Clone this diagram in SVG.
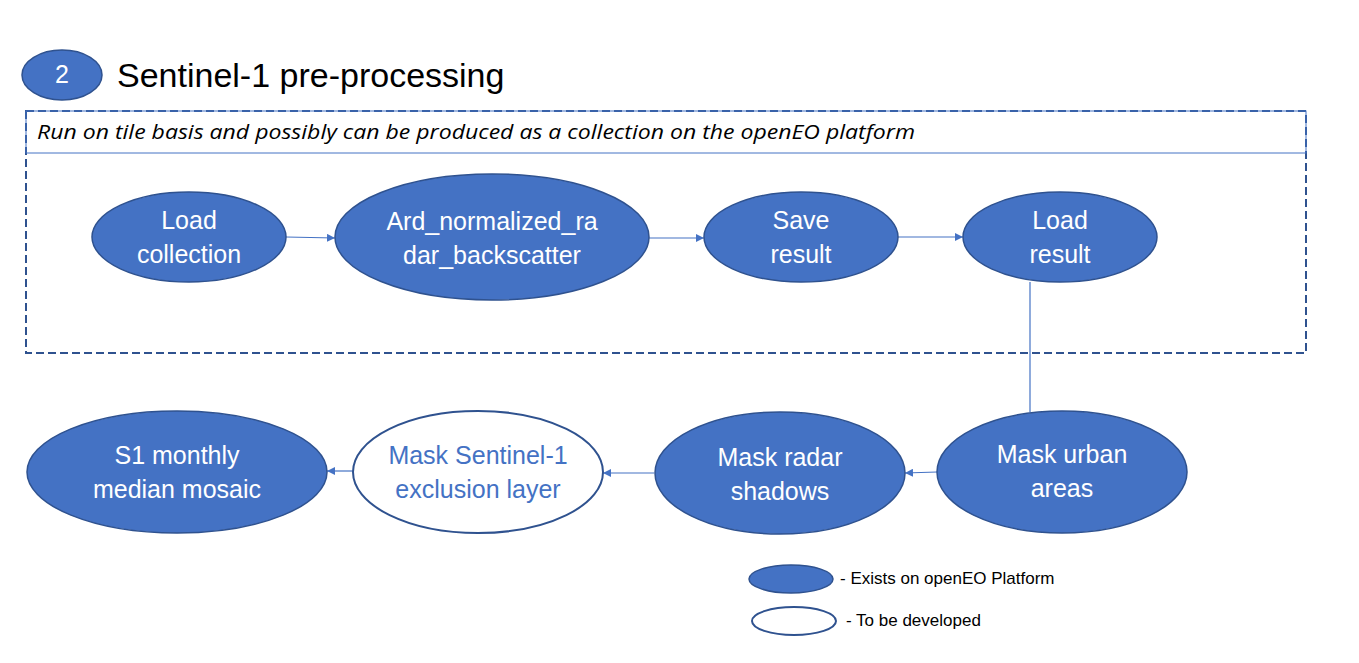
<svg xmlns="http://www.w3.org/2000/svg" width="1359" height="663" viewBox="0 0 1359 663">
<style>
.fill{fill:#4472C4;stroke:#2F528F;stroke-width:1.5}
.empty{fill:#FFFFFF;stroke:#2F528F;stroke-width:2}
.t{font-family:"Liberation Sans",Arial,sans-serif;font-size:25px;fill:#FFFFFF;text-anchor:middle}
.tb{font-family:"Liberation Sans",Arial,sans-serif;font-size:25px;fill:#4472C4;text-anchor:middle}
.conn{stroke:#4472C4;stroke-width:1.2;fill:none}
.leg{font-family:"Liberation Sans",Arial,sans-serif;font-size:17px;fill:#000000}
</style>
<defs>
<marker id="arr" viewBox="0 0 10 10" refX="10" refY="5" markerWidth="8" markerHeight="8" markerUnits="userSpaceOnUse" orient="auto">
<path d="M0,0 L10,5 L0,10 z" fill="#4472C4"/>
</marker>
</defs>
<rect width="1359" height="663" fill="#FFFFFF"/>
<g id="title">
<ellipse cx="62" cy="75" rx="40" ry="25" class="fill"/>
<text x="62" y="83" class="t" font-size="22">2</text>
<text x="117" y="87" font-family="Liberation Sans,Arial,sans-serif" font-size="34" fill="#000000">Sentinel-1 pre-processing</text>
</g>
<g id="tile-box">
<rect x="26" y="111" width="1280" height="242" fill="none" stroke="#2F528F" stroke-width="2" stroke-dasharray="8,4"/>
<rect x="26" y="111" width="1280" height="42" fill="none" stroke="#4472C4" stroke-width="1"/>
<text x="37" y="139" font-family="Open Sans,Liberation Sans,sans-serif" font-size="20" font-style="italic" fill="#000000" textLength="878" lengthAdjust="spacingAndGlyphs">Run on tile basis and possibly can be produced as a collection on the openEO platform</text>
</g>
<g id="connectors">
<line x1="286" y1="237" x2="335" y2="238" class="conn" marker-end="url(#arr)"/>
<line x1="649" y1="238" x2="704" y2="238" class="conn" marker-end="url(#arr)"/>
<line x1="898" y1="237" x2="963" y2="237" class="conn" marker-end="url(#arr)"/>
<line x1="1030" y1="282" x2="1030" y2="412" class="conn"/>
<line x1="937" y1="472" x2="905" y2="473" class="conn" marker-end="url(#arr)"/>
<line x1="654" y1="473" x2="603" y2="473" class="conn" marker-end="url(#arr)"/>
<line x1="353" y1="471" x2="327" y2="471" class="conn" marker-end="url(#arr)"/>
</g>
<g id="load-collection">
<ellipse cx="189" cy="237" rx="97" ry="45" class="fill"/>
<text x="189" y="229" class="t">Load</text>
<text x="189" y="263" class="t">collection</text>
</g>
<g id="ard">
<ellipse cx="492" cy="237" rx="157" ry="63" class="fill"/>
<text x="492" y="230" class="t">Ard_normalized_ra</text>
<text x="492" y="264" class="t">dar_backscatter</text>
</g>
<g id="save-result">
<ellipse cx="801" cy="237" rx="97" ry="45" class="fill"/>
<text x="801" y="229" class="t">Save</text>
<text x="801" y="263" class="t">result</text>
</g>
<g id="load-result">
<ellipse cx="1060" cy="237" rx="97" ry="45" class="fill"/>
<text x="1060" y="229" class="t">Load</text>
<text x="1060" y="263" class="t">result</text>
</g>
<g id="mask-urban">
<ellipse cx="1062" cy="472" rx="125" ry="61" class="fill"/>
<text x="1062" y="463" class="t">Mask urban</text>
<text x="1062" y="497" class="t">areas</text>
</g>
<g id="mask-radar">
<ellipse cx="780" cy="473" rx="125" ry="61" class="fill"/>
<text x="780" y="466" class="t">Mask radar</text>
<text x="780" y="500" class="t">shadows</text>
</g>
<g id="mask-sentinel">
<ellipse cx="478" cy="472" rx="125" ry="61" class="empty"/>
<text x="478" y="464" class="tb">Mask Sentinel-1</text>
<text x="478" y="498" class="tb">exclusion layer</text>
</g>
<g id="s1-mosaic">
<ellipse cx="177" cy="472" rx="150" ry="61" class="fill"/>
<text x="177" y="464" class="t">S1 monthly</text>
<text x="177" y="498" class="t">median mosaic</text>
</g>
<g id="legend">
<ellipse cx="791" cy="579" rx="42" ry="14" class="fill"/>
<text x="840" y="584" class="leg">- Exists on openEO Platform</text>
<ellipse cx="794" cy="621" rx="42" ry="14" class="empty"/>
<text x="846" y="626" class="leg">- To be developed</text>
</g>
</svg>
